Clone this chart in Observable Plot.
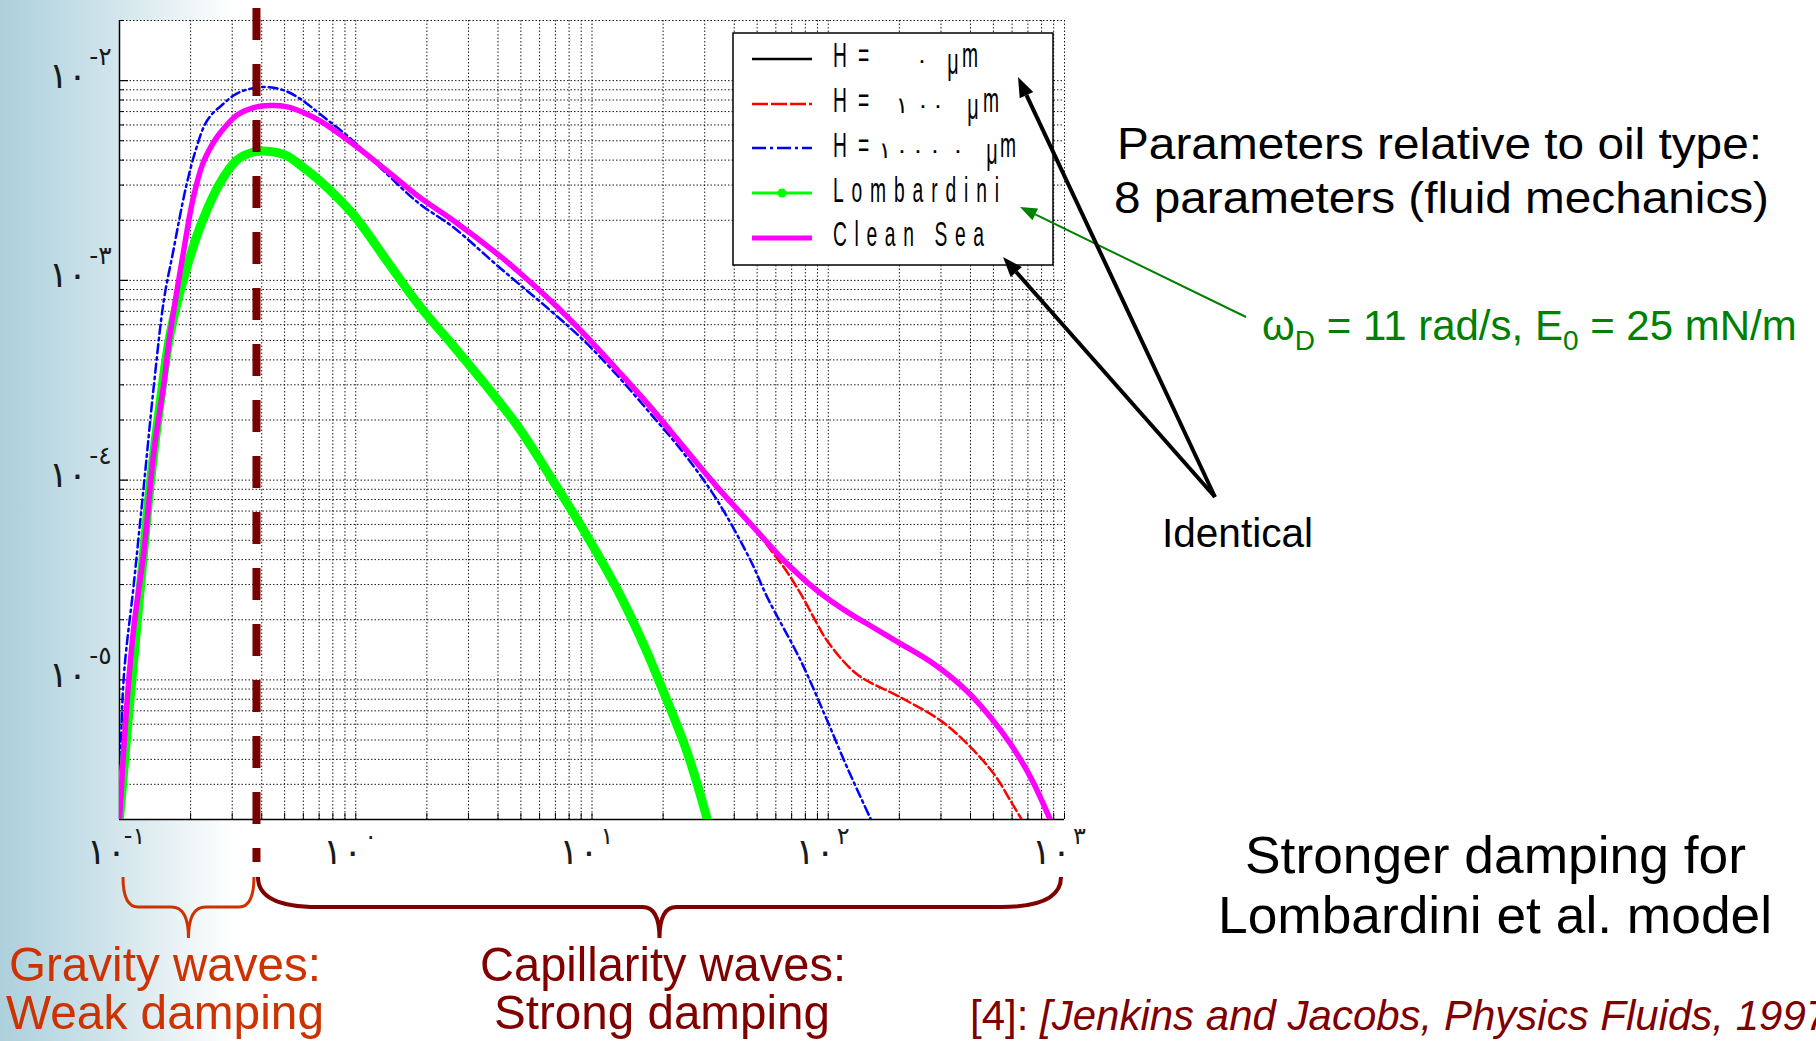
<!DOCTYPE html>
<html><head><meta charset="utf-8">
<script src="https://cdn.jsdelivr.net/npm/d3@7"></script>
<script src="https://cdn.jsdelivr.net/npm/@observablehq/plot@0.6"></script>
<style>
html,body{margin:0;padding:0;width:1816px;height:1041px;overflow:hidden;
background:linear-gradient(to right,#acd0dc 0px,#d0e4eb 110px,#ffffff 235px);}
#chart{position:absolute;left:0;top:0;}
</style></head><body><div id="chart"></div>
<script>
// ---- data (wavenumber k, damping value v) ----
const cleanSeaK = [0.1,0.108,0.115,0.127,0.140,0.154,0.163,0.187,0.204,0.225,0.248,0.265,0.312,0.367,0.432,0.508,0.597,0.703,0.972,1.35,1.86,2.58,4.06,4.82,6.67,9.23,12.8,17.7,24.5,33.9,46.9,64.9,89.7,124,146,202,280,384,486,590,718,873];
const cleanSeaV = [2.0e-6,8.2e-6,1.84e-5,4.45e-5,1.41e-4,3.03e-4,5.20e-4,1.41e-3,2.51e-3,3.83e-3,4.83e-3,5.42e-3,6.68e-3,7.31e-3,7.50e-3,7.41e-3,6.95e-3,6.31e-3,4.83e-3,3.55e-3,2.61e-3,2.00e-3,1.33e-3,1.12e-3,7.93e-4,5.41e-4,3.56e-4,2.32e-4,1.46e-4,9.23e-5,6.04e-5,3.96e-5,2.80e-5,2.14e-5,1.91e-5,1.52e-5,1.20e-5,8.85e-6,6.50e-6,4.79e-6,3.26e-6,1.98e-6];
// H = 0 µm : identical to Clean Sea
const h0K = cleanSeaK;
const h0V = cleanSeaV;
const h100K = [0.1,0.108,0.115,0.127,0.140,0.154,0.163,0.187,0.204,0.225,0.248,0.265,0.312,0.367,0.432,0.508,0.597,0.703,0.972,1.35,1.86,2.58,4.06,4.82,6.67,9.23,12.8,17.7,24.5,33.9,46.9,58.7,64.9,76.4,89.7,98.9,132,202,298,387,502,590,662];
const h100V = [2.0e-6,8.2e-6,1.84e-5,4.45e-5,1.41e-4,3.03e-4,5.20e-4,1.41e-3,2.51e-3,3.83e-3,4.83e-3,5.42e-3,6.68e-3,7.31e-3,7.50e-3,7.41e-3,6.95e-3,6.31e-3,4.83e-3,3.55e-3,2.61e-3,2.00e-3,1.33e-3,1.12e-3,7.93e-4,5.41e-4,3.56e-4,2.32e-4,1.46e-4,9.23e-5,6.04e-5,4.28e-5,3.66e-5,2.70e-5,1.91e-5,1.57e-5,1.07e-5,8.18e-6,6.27e-6,4.79e-6,3.39e-6,2.49e-6,1.98e-6];
const h10000K = [0.1,0.104,0.115,0.127,0.140,0.154,0.168,0.191,0.210,0.230,0.250,0.265,0.312,0.367,0.432,0.508,0.597,0.703,0.972,1.35,1.86,2.58,4.06,6.67,9.23,12.8,17.7,24.5,33.9,46.9,55.2,76.4,98.9,120,151];
const h10000V = [2.0e-6,9.9e-6,3.03e-5,9.6e-5,3.03e-4,7.93e-4,1.36e-3,2.92e-3,4.47e-3,6.04e-3,6.93e-3,7.36e-3,8.59e-3,9.16e-3,9.27e-3,8.85e-3,7.94e-3,6.82e-3,5.01e-3,3.42e-3,2.42e-3,1.85e-3,1.16e-3,7.06e-4,5.00e-4,3.34e-4,2.15e-4,1.36e-4,7.91e-5,3.96e-5,2.59e-5,1.25e-5,6.27e-6,3.66e-6,2.02e-6];
const lombardiniK = [0.1,0.111,0.123,0.135,0.149,0.164,0.191,0.225,0.265,0.312,0.367,0.432,0.508,0.597,0.703,0.972,1.35,1.86,2.58,3.48,4.82,6.67,9.23,12.8,16.6,19.5,25.3,30.7];
const lombardiniV = [2.0e-6,8.18e-6,3.03e-5,9.6e-5,2.51e-4,5.41e-4,1.12e-3,2.00e-3,3.04e-3,3.98e-3,4.38e-3,4.42e-3,4.22e-3,3.69e-3,3.16e-3,2.15e-3,1.26e-3,7.46e-4,4.72e-4,3.08e-4,1.88e-4,1.04e-4,5.60e-5,2.83e-5,1.49e-5,9.48e-6,4.33e-6,2.02e-6];
const limitK = [0.38];               // gravity / capillarity boundary
const xMajor = [0.1,1,10,100,1000];
const xExp = ["-١","٠","١","٢","٣"];
const yMajor = [1e-2,1e-3,1e-4,1e-5];
const yExp = ["-٢","-٣","-٤","-٥"];
const hDigits = ["٠","١٠٠","١٠٠٠٠"];
const legendNames = ["H = 0 μm","H = 100 μm","H = 10000 μm","Lombardini","Clean Sea"];

// ---- helpers ----
const table = (K, V) => K.map((k, i) => ({k, v: V[i]}));
function logTicks(lo, hi) {
  const t = [];
  for (let e = Math.floor(Math.log10(lo)); e <= Math.ceil(Math.log10(hi)); e++)
    for (let m = 1; m < 10; m++) { const v = +(m * Math.pow(10, e)).toPrecision(3); if (v >= lo * 0.999 && v <= hi * 1.001) t.push(v); }
  return t;
}
const xDom = [0.1, 1000], yDom = [2e-6, 2e-2];
const xGrid = logTicks(...xDom);
const yGrid = logTicks(...yDom);
const yMinor = yGrid.filter(v => !yMajor.includes(v));
const W = 1816, H = 1041, ML = 119, MT = 20, MR = W - 1064, MB = H - 819;
const fw = W - ML - MR, fh = H - MT - MB;
const digitFont = "'DejaVu Sans', sans-serif";
const lab = {fontFamily: digitFont, fill: "#1a1a1a", lineAnchor: "bottom", textAnchor: "middle"};
const crv = "catmull-rom";

const plot = Plot.plot({
  width: W, height: H, marginLeft: ML, marginRight: MR, marginTop: MT, marginBottom: MB,
  style: {background: "transparent", overflow: "visible"},
  x: {type: "log", domain: xDom, axis: null},
  y: {type: "log", domain: yDom, axis: null},
  marks: [
    Plot.frame({fill: "white", stroke: "none"}),
    Plot.ruleX(xGrid, {x: d => d, stroke: "#000", strokeOpacity: 0.9, strokeWidth: 1, strokeDasharray: "1.5,2"}),
    Plot.ruleY(yGrid, {y: d => d, stroke: "#000", strokeOpacity: 0.9, strokeWidth: 1, strokeDasharray: "1.5,2"}),
    Plot.ruleX(xGrid, {x: d => d, insetTop: fh - 6, stroke: "#000", strokeWidth: 1}),
    Plot.ruleY(yMajor, {y: d => d, insetRight: fw - 9, stroke: "#000", strokeWidth: 1.2}),
    Plot.ruleY(yMinor, {y: d => d, insetRight: fw - 5, stroke: "#000", strokeWidth: 1}),
    Plot.ruleX([xDom[0]], {x: d => d, stroke: "#000", strokeWidth: 1.5}),
    Plot.ruleY([yDom[0]], {y: d => d, stroke: "#000", strokeWidth: 1.5}),
    Plot.line(table(h0K, h0V), {x: "k", y: "v", stroke: "#000", strokeWidth: 2, curve: crv, clip: true}),
    Plot.line(table(h100K, h100V), {x: "k", y: "v", stroke: "#ff0000", strokeWidth: 2.5, strokeDasharray: "10,4", curve: crv, clip: true}),
    Plot.line(table(h10000K, h10000V), {x: "k", y: "v", stroke: "#0000ff", strokeWidth: 2.5, strokeDasharray: "9,4,2.5,4", curve: crv, clip: true}),
    Plot.line(table(lombardiniK, lombardiniV), {x: "k", y: "v", stroke: "#00ff00", strokeWidth: 9, curve: crv, clip: true}),
    Plot.line(table(cleanSeaK, cleanSeaV), {x: "k", y: "v", stroke: "#ff00ff", strokeWidth: 5.5, curve: crv, clip: true}),
    Plot.ruleX(limitK, {x: d => d, insetTop: -12, insetBottom: -43, stroke: "#7a0000", strokeWidth: 8, strokeDasharray: "32,24"}),
    // x tick labels  (١٠ with superscript exponent)
    Plot.text(xMajor, {x: d => d, frameAnchor: "bottom", text: () => "١", dx: -23, dy: 44, fontSize: 36, ...lab}),
    Plot.text(xMajor, {x: d => d, frameAnchor: "bottom", text: () => "٠", dx: -3, dy: 44, fontSize: 36, ...lab}),
    Plot.text(xMajor, {x: d => d, frameAnchor: "bottom", text: (d, i) => xExp[i], dx: 15, dy: 24, fontSize: 24, ...lab}),
    // y tick labels
    Plot.text(yMajor, {y: d => d, frameAnchor: "left", text: () => "١", dx: -61, dy: 7, fontSize: 36, ...lab}),
    Plot.text(yMajor, {y: d => d, frameAnchor: "left", text: () => "٠", dx: -42, dy: 7, fontSize: 36, ...lab}),
    Plot.text(yMajor, {y: d => d, frameAnchor: "left", text: (d, i) => yExp[i], dx: -19, dy: -16, fontSize: 25, ...lab})
  ]
});
document.getElementById("chart").append(plot);

const xs = plot.scale("x");
const g = d3.select(plot).append("g").attr("text-anchor", "start");
const sans = "'Liberation Sans', Arial, Helvetica, sans-serif";

// ---- legend ----
g.append("rect").attr("x", 733).attr("y", 33).attr("width", 320).attr("height", 232)
  .attr("fill", "white").attr("stroke", "#000").attr("stroke-width", 1.5);
const rowY = [59, 104, 148, 193, 238];
const sample = [
  {stroke: "#000", w: 2.5, dash: null},
  {stroke: "#ff0000", w: 2.5, dash: "16,3"},
  {stroke: "#0000ff", w: 2.5, dash: "14,4,3,4"},
  {stroke: "#00ff00", w: 3, dash: null, dot: true},
  {stroke: "#ff00ff", w: 5, dash: null}
];
sample.forEach((s, i) => {
  const l = g.append("line").attr("x1", 752).attr("x2", 812).attr("y1", rowY[i]).attr("y2", rowY[i])
    .attr("stroke", s.stroke).attr("stroke-width", s.w);
  if (s.dash) l.attr("stroke-dasharray", s.dash);
  if (s.dot) g.append("circle").attr("cx", 782).attr("cy", rowY[i]).attr("r", 4.5).attr("fill", s.stroke);
});
function ltxt(x, y, s, o = {}) {
  const sx = o.sx ?? 0.55;
  const t = g.append("text").attr("transform", `translate(${x},${y}) scale(${sx},1)`)
    .attr("font-family", o.family || sans).attr("font-size", o.size || 35)
    .attr("text-anchor", o.anchor || "start").attr("fill", "#000");
  if (o.len) t.attr("textLength", o.len / sx).attr("lengthAdjust", "spacing");
  t.text(s);
}
const base = [67, 112, 157, 202, 246];
const digitX = [[922], [902, 923, 938], [885, 902, 918, 935, 958]];
const muX = [953, 973, 992], mX = [962, 983, 1000];
for (let i = 0; i < 3; i++) {
  ltxt(833, base[i], "H");
  ltxt(858, base[i], "=");
  [...hDigits[i]].forEach((c, j) => ltxt(digitX[i][j], base[i] + 1, c, {sx: 1, size: 23, family: digitFont, anchor: "middle"}));
  ltxt(muX[i], base[i] + 7, "μ", {anchor: "middle", size: 36});
  ltxt(mX[i], base[i], "m");
}
ltxt(833, base[3], legendNames[3], {len: 166});
ltxt(833, base[4], legendNames[4], {len: 151});

// ---- annotations ----
function txt(x, y, s, o = {}) {
  const t = g.append("text").attr("x", x).attr("y", y).attr("font-family", sans)
    .attr("font-size", o.size).attr("fill", o.fill || "#000").attr("text-anchor", "start");
  if (o.len) t.attr("textLength", o.len).attr("lengthAdjust", "spacingAndGlyphs");
  t.text(s);
  return t;
}
txt(1117, 159, "Parameters relative to oil type:", {size: 45, len: 645});
txt(1114, 213, "8 parameters (fluid mechanics)", {size: 45, len: 655});
txt(1162, 547, "Identical", {size: 41, len: 151});
txt(1245, 873, "Stronger damping for", {size: 52, len: 501});
txt(1218, 933, "Lombardini et al. model", {size: 52, len: 554});
txt(9, 981, "Gravity waves:", {size: 49, len: 312, fill: "#cc3300"});
txt(6, 1029, "Weak damping", {size: 49, len: 318, fill: "#cc3300"});
txt(480, 981, "Capillarity waves:", {size: 49, len: 366, fill: "#800000"});
txt(494, 1029, "Strong damping", {size: 49, len: 336, fill: "#800000"});

const gt = g.append("text").attr("x", 1262).attr("y", 340).attr("text-anchor", "start")
  .attr("font-family", sans).attr("font-size", 42).attr("fill", "#008000");
gt.append("tspan").text("ω");
gt.append("tspan").attr("font-size", 28).attr("dy", 10).text("D");
gt.append("tspan").attr("dy", -10).text(" = 11 rad/s, E");
gt.append("tspan").attr("font-size", 28).attr("dy", 10).text("0");
gt.append("tspan").attr("dy", -10).text(" = 25 mN/m");

const ct = g.append("text").attr("x", 970).attr("y", 1030).attr("text-anchor", "start")
  .attr("font-family", sans).attr("font-size", 42).attr("fill", "#800000");
ct.append("tspan").text("[4]: ");
ct.append("tspan").attr("font-style", "italic").text("[Jenkins and Jacobs, Physics Fluids, 1997]");

function arrow(x1, y1, x2, y2, color, w, hl, hw) {
  const a = Math.atan2(y2 - y1, x2 - x1);
  const bx = x2 - hl * Math.cos(a), by = y2 - hl * Math.sin(a);
  g.append("line").attr("x1", x1).attr("y1", y1).attr("x2", bx).attr("y2", by).attr("stroke", color).attr("stroke-width", w);
  const px = -Math.sin(a) * hw / 2, py = Math.cos(a) * hw / 2;
  g.append("path").attr("d", `M${x2},${y2}L${bx + px},${by + py}L${bx - px},${by - py}Z`).attr("fill", color);
}
arrow(1246, 317, 1020, 207, "#008000", 2, 17, 13);
arrow(1215, 497, 1018, 77, "#000", 4, 20, 15);
arrow(1215, 497, 1003, 257, "#000", 4, 20, 15);

// ---- braces over the k ranges ----
function brace(x1, x2, yTop, yMid, yTip, r, r2, color, w) {
  const xc = (x1 + x2) / 2;
  const d = `M${x1},${yTop} Q${x1},${yMid} ${x1 + r},${yMid} L${xc - r2},${yMid} Q${xc},${yMid} ${xc},${yTip} Q${xc},${yMid} ${xc + r2},${yMid} L${x2 - r},${yMid} Q${x2},${yMid} ${x2},${yTop}`;
  g.append("path").attr("d", d).attr("fill", "none").attr("stroke", color).attr("stroke-width", w);
}
const xl = xs.apply(xDom[0]), xb = xs.apply(limitK[0]), xr = xs.apply(xDom[1]);
brace(xl + 4, xb - 2, 877, 907, 938, 15, 17, "#cc3300", 3);
brace(xb + 2, xr - 3, 877, 907, 938, 60, 17, "#800000", 4);
</script>
</body></html>
